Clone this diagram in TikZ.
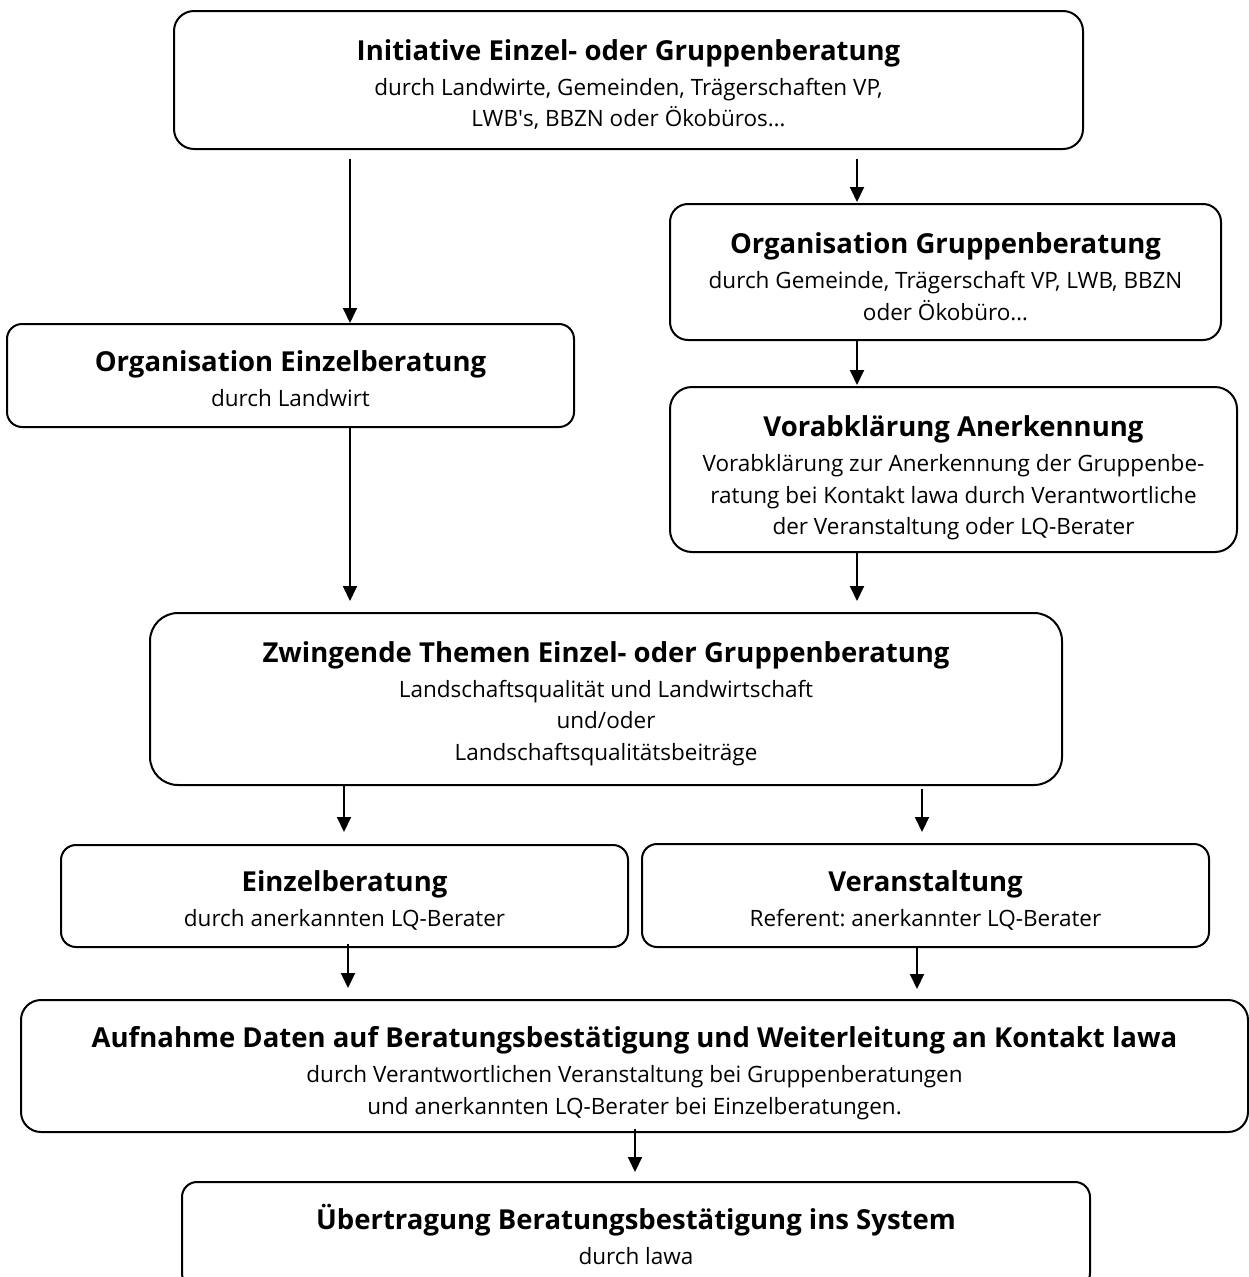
\documentclass[tikz,border=0pt]{standalone}
\usepackage{fontspec}
\setmainfont{Open Sans}
\usetikzlibrary{arrows.meta}
\frenchspacing
\newcommand{\ttlfont}{\fontsize{27.5}{31.5}\selectfont\bfseries}
\newcommand{\bodyfont}{\fontsize{22.5}{31.5}\selectfont}
\newcommand{\bxt}[3][10pt]{\begin{tabular}{@{}c@{}}\noalign{\vskip#1}{\ttlfont #2}\\[3.5pt]#3\end{tabular}}
\begin{document}
\begin{tikzpicture}[x=1pt,y=-1pt,
  flowbox/.style={draw, line width=2pt, rounded corners=#1, inner sep=0pt, font=\bodyfont},
  flowbox/.default=16pt,
  arr/.style={line width=1.9pt, -{Triangle[length=15pt,width=14pt]}}]
\useasboundingbox (0,0) rectangle (1249,1277);

\node[flowbox=20pt, minimum width=909pt, minimum height=138pt] (init) at (628.5,80)
  {\bxt[14pt]{Initiative Einzel- oder Gruppenberatung}{durch Landwirte, Gemeinden, Trägerschaften VP,\\ LWB\textquotesingle s, BBZN oder Ökobüros…}};
\node[flowbox=18pt, minimum width=551pt, minimum height=136pt] (orgG) at (945.5,272)
  {\bxt[17pt]{Organisation Gruppenberatung}{durch Gemeinde, Trägerschaft VP, LWB, BBZN\\ oder Ökobüro…}};
\node[flowbox=15pt, minimum width=567pt, minimum height=103pt] (orgE) at (290.5,375.5)
  {\bxt[14pt]{Organisation Einzelberatung}{durch Landwirt}};
\node[flowbox=22pt, minimum width=567pt, minimum height=165pt] (vorab) at (953.5,469.5)
  {\bxt[20pt]{Vorabklärung Anerkennung}{Vorabklärung zur Anerkennung der Gruppenbe-\\ ratung bei Kontakt lawa durch Verantwortliche\\ der Veranstaltung oder LQ-Berater}};
\node[flowbox=28pt, minimum width=912pt, minimum height=172pt] (zwing) at (606,699)
  {\bxt[12pt]{Zwingende Themen Einzel- oder Gruppenberatung}{Landschaftsqualität und Landwirtschaft\\ und/oder\\ Landschaftsqualitätsbeiträge}};
\node[flowbox=15pt, minimum width=567pt, minimum height=102pt] (einz) at (344.5,896)
  {\bxt[14pt]{Einzelberatung}{durch anerkannten LQ-Berater}};
\node[flowbox=15pt, minimum width=567pt, minimum height=103pt] (veran) at (925.5,895.5)
  {\bxt[14pt]{Veranstaltung}{Referent: anerkannter LQ-Berater}};
\node[flowbox=20pt, minimum width=1227pt, minimum height=132pt] (aufn) at (634.5,1066)
  {\bxt[17pt]{Aufnahme Daten auf Beratungsbestätigung und Weiterleitung an Kontakt lawa}{durch Verantwortlichen Veranstaltung bei Gruppenberatungen\\ und anerkannten LQ-Berater bei Einzelberatungen.}};
\node[flowbox=15pt, minimum width=908pt, minimum height=106pt] (uber) at (636,1235)
  {\bxt[8pt]{Übertragung Beratungsbestätigung ins System}{durch lawa}};

\coordinate (xa) at (350,0);
\coordinate (xb) at (857,0);
\coordinate (xc) at (344,0);
\coordinate (xd) at (922,0);
\coordinate (xe) at (348,0);
\coordinate (xf) at (917,0);
\coordinate (xg) at (635,0);

\draw[arr, shorten <=9pt] (init.south -| xa) -- (orgE.north -| xa);
\draw[arr, shorten <=9pt, shorten >=1pt] (init.south -| xb) -- (orgG.north -| xb);
\draw[arr, shorten >=1pt] (orgG.south -| xb) -- (vorab.north -| xb);
\draw[arr, shorten >=11pt] (orgE.south -| xa) -- (zwing.north -| xa);
\draw[arr, shorten >=11pt] (vorab.south -| xb) -- (zwing.north -| xb);
\draw[arr, shorten >=12pt] (zwing.south -| xc) -- (einz.north -| xc);
\draw[arr, shorten <=3pt, shorten >=11pt] (zwing.south -| xd) -- (veran.north -| xd);
\draw[arr, shorten <=-4pt, shorten >=11pt] (einz.south -| xe) -- (aufn.north -| xe);
\draw[arr, shorten >=10pt] (veran.south -| xf) -- (aufn.north -| xf);
\draw[arr, shorten <=-4pt, shorten >=9pt] (aufn.south -| xg) -- (uber.north -| xg);
\end{tikzpicture}
\end{document}
